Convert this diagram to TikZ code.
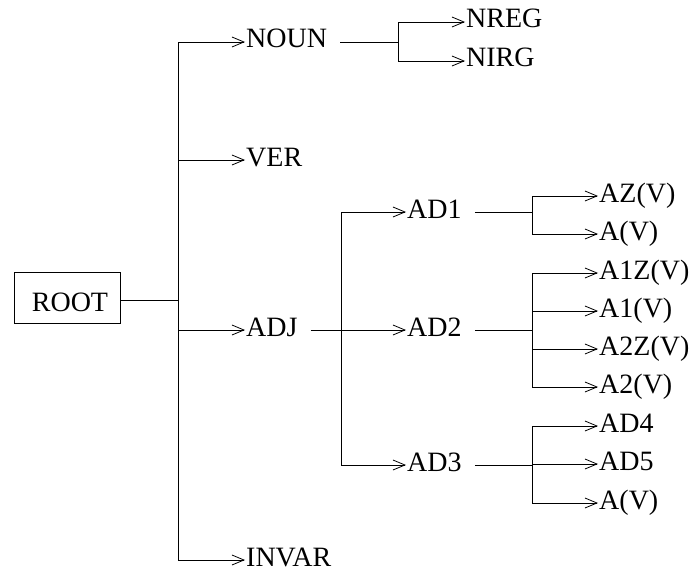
\documentclass[tikz,border=0pt]{standalone}
\usepackage{fontspec}
\setmainfont{Liberation Serif}
\usetikzlibrary{arrows.meta}

\begin{document}
\begin{tikzpicture}[x=1pt, y=-1pt, font=\fontsize{28}{30}\selectfont, cat/.style={anchor=west, inner xsep=1pt, inner ysep=0pt, text height=18pt, text depth=6pt}, arrow/.style={-{Straight Barb[length=12pt,width=10pt]}, line width=0.8pt}, link/.style={line width=0.8pt, shorten <=12pt}]
\useasboundingbox (0,0) rectangle (700,572);
\node[draw, line width=0.8pt, minimum width=106pt, minimum height=51pt, inner sep=0pt, text height=26pt, text depth=0pt] (root) at (67,298) {\hspace{6pt}ROOT};
% first level
\node[cat] (noun) at (245,42) {NOUN};
\node[cat] (ver) at (245,160) {VER};
\node[cat] (adj) at (245,330) {ADJ};
\node[cat] (invar) at (245,560) {INVAR};
% second level
\node[cat] (nreg) at (465,22) {NREG};
\node[cat] (nirg) at (465,61) {NIRG};
\node[cat] (ad1) at (406,212) {AD1};
\node[cat] (ad2) at (406,330) {AD2};
\node[cat] (ad3) at (406,465) {AD3};
% third level
\node[cat] (az) at (598,196) {AZ(V)};
\node[cat] (a) at (598,234) {A(V)};
\node[cat] (a1z) at (598,273) {A1Z(V)};
\node[cat] (a1) at (598,311) {A1(V)};
\node[cat] (a2z) at (598,349) {A2Z(V)};
\node[cat] (a2) at (598,387) {A2(V)};
\node[cat] (ad4) at (598,426) {AD4};
\node[cat] (ad5) at (598,464) {AD5};
\node[cat] (av) at (598,503) {A(V)};
% junctions
\coordinate (jroot) at (178,300);
\coordinate (jnoun) at (398,42);
\coordinate (jadj) at (341,330);
\coordinate (jad1) at (532,212);
\coordinate (jad2) at (532,330);
\coordinate (jad3) at (532,465);
\draw[line width=0.8pt] (root.east |- jroot) -- (jroot);
\draw[link] (noun.east) -- (jnoun);
\draw[link] (adj.east) -- (jadj);
\draw[link] (ad1.east) -- (jad1);
\draw[link] (ad2.east) -- (jad2);
\draw[link] (ad3.east) -- (jad3);
\foreach \c in {noun,ver,adj,invar} \draw[arrow] (jroot) |- (\c.west);
\foreach \c in {nreg,nirg} \draw[arrow] (jnoun) |- (\c.west);
\foreach \c in {ad1,ad2,ad3} \draw[arrow] (jadj) |- (\c.west);
\foreach \c in {az,a} \draw[arrow] (jad1) |- (\c.west);
\foreach \c in {a1z,a1,a2z,a2} \draw[arrow] (jad2) |- (\c.west);
\foreach \c in {ad4,ad5,av} \draw[arrow] (jad3) |- (\c.west);
\end{tikzpicture}
\end{document}
